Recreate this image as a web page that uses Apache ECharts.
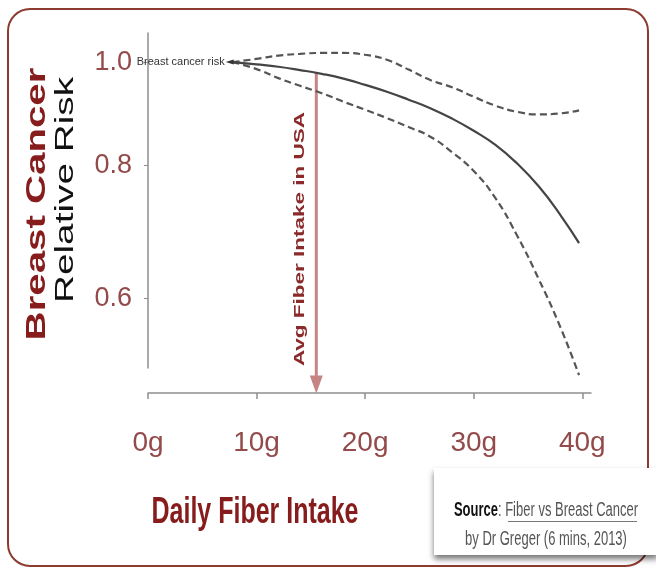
<!DOCTYPE html>
<html>
<head>
<meta charset="utf-8">
<script src="https://cdn.jsdelivr.net/npm/echarts@6/dist/echarts.min.js"></script>
<style>
html,body{margin:0;padding:0;background:#fff;}
#chart{width:656px;height:571px;}
</style>
</head>
<body>
<div id="chart"></div>
<script>
// Daily fiber intake (g)
const fiber = [7.8, 10, 12, 14, 16, 18, 20, 22, 24, 26, 28, 30, 32, 34, 36, 38, 39.7];
// Relative risk estimate and 95% CI
const riskEstimate = [1.0, 0.995, 0.99, 0.983, 0.975, 0.965, 0.952, 0.938, 0.922, 0.905, 0.885, 0.862, 0.836, 0.803, 0.764, 0.718, 0.676];
const riskUpper = [1.0, 1.007, 1.014, 1.018, 1.020, 1.020, 1.016, 1.005, 0.984, 0.962, 0.947, 0.928, 0.910, 0.898, 0.893, 0.895, 0.901];
const riskLower = [1.0, 0.985, 0.966, 0.950, 0.935, 0.918, 0.902, 0.886, 0.869, 0.851, 0.823, 0.790, 0.745, 0.687, 0.625, 0.563, 0.508];
// Average US intake marker
const avgUSA = [[15.5, 0.978], [15.5, 0.498]];
const xTicks = [0, 10, 20, 30, 40];
const yTicks = [0.6, 0.8, 1.0];

const pair = (xs, ys) => xs.map((x, i) => [x, ys[i]]);

const labelColor = '#934a4a';
const titleColor = '#861c1c';
const sans = '"Liberation Sans", Arial, sans-serif';

const estData = pair(fiber, riskEstimate);
estData[0] = {
  value: estData[0],
  symbol: 'triangle', symbolRotate: 90, symbolSize: [5, 8], symbolOffset: [-3, 0],
  itemStyle: { color: '#333' },
  label: { show: true, position: 'left', distance: 1, formatter: 'Breast cancer risk',
           fontFamily: sans, fontSize: 11, color: '#333' }
};

const chart = echarts.init(document.getElementById('chart'), null, { renderer: 'canvas' });
chart.setOption({
  animation: false,
  backgroundColor: '#fff',
  grid: { left: 148, right: 65, top: 33, bottom: 203 },
  xAxis: {
    type: 'value', min: 0, max: 40.8, offset: 25,
    splitLine: { show: false },
    axisLine: { lineStyle: { color: '#8e8e8e', width: 1.5 } },
    axisTick: { customValues: xTicks, length: 6, lineStyle: { color: '#8e8e8e', width: 1.5 } },
    axisLabel: { customValues: xTicks, formatter: '{value}g', fontFamily: sans, fontSize: 28,
                 color: labelColor, margin: 36 }
  },
  yAxis: {
    type: 'log', logBase: 10, min: 0.516, max: 1.065, offset: 10,
    splitLine: { show: false },
    axisLine: { show: true, lineStyle: { color: '#8e8e8e', width: 1.5 } },
    axisTick: { show: true, customValues: yTicks, length: 4, lineStyle: { color: '#8e8e8e', width: 1 } },
    axisLabel: { customValues: yTicks, formatter: v => Number(v).toFixed(1), fontFamily: sans,
                 fontSize: 27, color: labelColor, margin: 6 }
  },
  series: [
    { type: 'line', name: 'Upper', data: pair(fiber, riskUpper), smooth: true, showSymbol: false,
      clip: false, lineStyle: { color: '#555', width: 2.2, type: [7, 4] } },
    { type: 'line', name: 'Lower', data: pair(fiber, riskLower), smooth: true, showSymbol: false,
      clip: false, lineStyle: { color: '#555', width: 2.2, type: [7, 4] } },
    { type: 'line', name: 'Avg USA', data: [avgUSA[0], { value: avgUSA[1], symbol: 'triangle', symbolRotate: 180,
        symbolSize: [13, 18], itemStyle: { color: '#c68585' } }],
      showSymbol: true, symbol: 'none', clip: false, z: 1,
      lineStyle: { color: '#c68585', width: 3 } },
    { type: 'line', name: 'Estimate', data: estData, smooth: true, symbol: 'none', showSymbol: true,
      clip: false, z: 3, lineStyle: { color: '#444', width: 2.2 } }
  ],
  graphic: [
    { type: 'rect', z: 0, shape: { x: 8, y: 9, width: 640, height: 557, r: 22 },
      style: { fill: 'none', stroke: '#8c3b30', lineWidth: 2 } },
    { type: 'text', x: 38, y: 204, rotation: Math.PI / 2, scaleX: 1.49,
      style: { text: 'Breast Cancer', font: 'bold 27px ' + sans, fill: titleColor,
               textAlign: 'center', textVerticalAlign: 'middle' } },
    { type: 'text', x: 66, y: 190, rotation: Math.PI / 2, scaleX: 1.49,
      style: { text: 'Relative Risk', font: '26px ' + sans, fill: '#111',
               textAlign: 'center', textVerticalAlign: 'middle' } },
    { type: 'text', x: 300, y: 239, rotation: Math.PI / 2, scaleX: 1.5,
      style: { text: 'Avg Fiber Intake in USA', font: 'bold 15px ' + sans, fill: '#8a2a2a',
               textAlign: 'center', textVerticalAlign: 'middle' } },
    { type: 'text', x: 255, y: 513, scaleY: 1.5,
      style: { text: 'Daily Fiber Intake', font: 'bold 25px ' + sans, fill: titleColor,
               textAlign: 'center', textVerticalAlign: 'middle' } },
    { type: 'rect', z: 5, shape: { x: 434, y: 468, width: 224, height: 87 },
      style: { fill: '#fff', shadowBlur: 6, shadowOffsetY: 4, shadowColor: 'rgba(0,0,0,0.55)' } },
    { type: 'text', z: 6, x: 546, y: 511, scaleY: 1.5,
      style: { text: '{b|Source}{n|: Fiber vs Breast Cancer}',
               rich: { b: { font: 'bold 13px ' + sans, fill: '#111' },
                       n: { font: '13px ' + sans, fill: '#555' } },
               textAlign: 'center', textVerticalAlign: 'middle' } },
    { type: 'line', z: 6, shape: { x1: 508, y1: 521.5, x2: 637, y2: 521.5 },
      style: { stroke: '#777', lineWidth: 1 } },
    { type: 'text', z: 6, x: 546, y: 540, scaleY: 1.5,
      style: { text: 'by Dr Greger (6 mins, 2013)', font: '13px ' + sans, fill: '#555',
               textAlign: 'center', textVerticalAlign: 'middle' } }
  ]
});
</script>
</body>
</html>
